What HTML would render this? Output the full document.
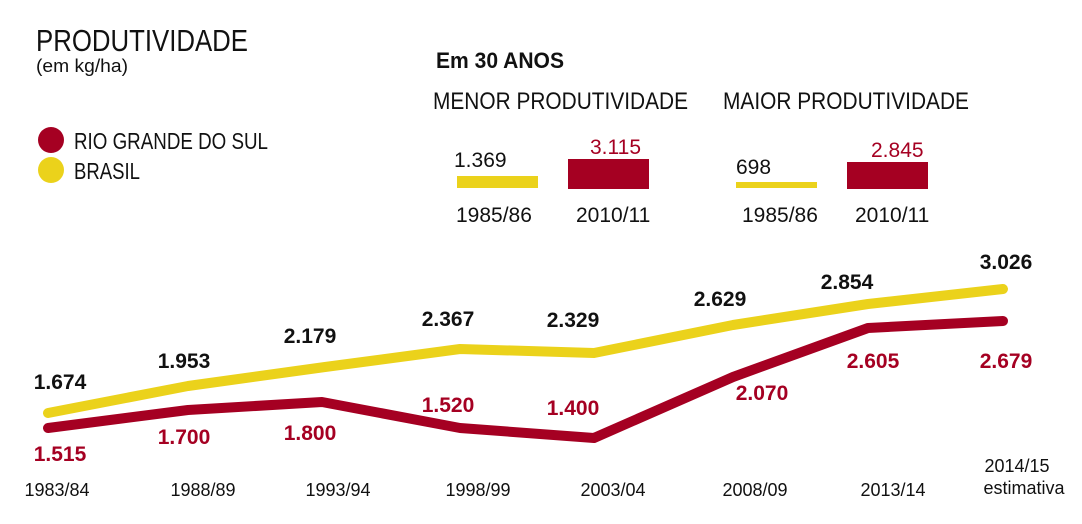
<!DOCTYPE html>
<html><head><meta charset="utf-8"><style>
html,body{margin:0;padding:0;background:#fff;}
svg{display:block}
text{font-family:"Liberation Sans Narrow","Liberation Sans",sans-serif;}
</style></head><body>
<svg width="1082" height="524" viewBox="0 0 1082 524" xmlns="http://www.w3.org/2000/svg">
<text x="36" y="51" font-size="31" fill="#111" textLength="212" lengthAdjust="spacingAndGlyphs">PRODUTIVIDADE</text>
<text x="36" y="72" font-size="18" fill="#111" textLength="92" lengthAdjust="spacingAndGlyphs">(em kg/ha)</text>
<circle cx="51" cy="140" r="13" fill="#a50022"/>
<circle cx="51" cy="170" r="13" fill="#ebd21b"/>
<text x="74" y="149" font-size="23" fill="#111" textLength="194" lengthAdjust="spacingAndGlyphs">RIO GRANDE DO SUL</text>
<text x="74" y="179" font-size="23" fill="#111" textLength="66" lengthAdjust="spacingAndGlyphs">BRASIL</text>
<text x="436" y="68" font-size="22" font-weight="bold" fill="#111" textLength="128" lengthAdjust="spacingAndGlyphs">Em 30 ANOS</text>
<text x="433" y="109" font-size="24" fill="#111" textLength="255" lengthAdjust="spacingAndGlyphs">MENOR PRODUTIVIDADE</text>
<text x="723" y="109" font-size="24" fill="#111" textLength="246" lengthAdjust="spacingAndGlyphs">MAIOR PRODUTIVIDADE</text>
<text x="454" y="167" font-size="21" fill="#111">1.369</text>
<text x="590" y="154" font-size="21" fill="#a50022">3.115</text>
<rect x="457" y="176" width="81" height="12" fill="#ebd21b"/>
<rect x="568" y="159" width="81" height="30" fill="#a50022"/>
<text x="456" y="222" font-size="21" fill="#111">1985/86</text>
<text x="576" y="222" font-size="21" fill="#111">2010/11</text>
<text x="736" y="174" font-size="21" fill="#111">698</text>
<text x="871" y="157" font-size="21" fill="#a50022">2.845</text>
<rect x="736" y="182" width="81" height="6" fill="#ebd21b"/>
<rect x="847" y="162" width="81" height="27" fill="#a50022"/>
<text x="742" y="222" font-size="21" fill="#111">1985/86</text>
<text x="855" y="222" font-size="21" fill="#111">2010/11</text>
<polyline points="48,413 188,386 325,367 460,349 594,353 733,325 868,304 1003,289" fill="none" stroke="#ebd21b" stroke-width="10" stroke-linecap="round" stroke-linejoin="round"/>
<polyline points="48,428 188,410 322,402 460,428 594,438 733,377 868,328 1003,321" fill="none" stroke="#a50022" stroke-width="10" stroke-linecap="round" stroke-linejoin="round"/>
<g font-size="21" font-weight="bold" fill="#111" text-anchor="middle">
<text x="60" y="389">1.674</text>
<text x="184" y="368">1.953</text>
<text x="310" y="343">2.179</text>
<text x="448" y="326">2.367</text>
<text x="573" y="327">2.329</text>
<text x="720" y="306">2.629</text>
<text x="847" y="289">2.854</text>
<text x="1006" y="269">3.026</text>
</g>
<g font-size="21" font-weight="bold" fill="#a50022" text-anchor="middle">
<text x="60" y="461">1.515</text>
<text x="184" y="444">1.700</text>
<text x="310" y="440">1.800</text>
<text x="448" y="412">1.520</text>
<text x="573" y="415">1.400</text>
<text x="762" y="400">2.070</text>
<text x="873" y="368">2.605</text>
<text x="1006" y="368">2.679</text>
</g>
<g font-size="18" fill="#111" text-anchor="middle">
<text x="57" y="496">1983/84</text>
<text x="203" y="496">1988/89</text>
<text x="338" y="496">1993/94</text>
<text x="478" y="496">1998/99</text>
<text x="613" y="496">2003/04</text>
<text x="755" y="496">2008/09</text>
<text x="893" y="496">2013/14</text>
<text x="1017" y="472">2014/15</text>
<text x="1024" y="494">estimativa</text>
</g>
</svg>
</body></html>
